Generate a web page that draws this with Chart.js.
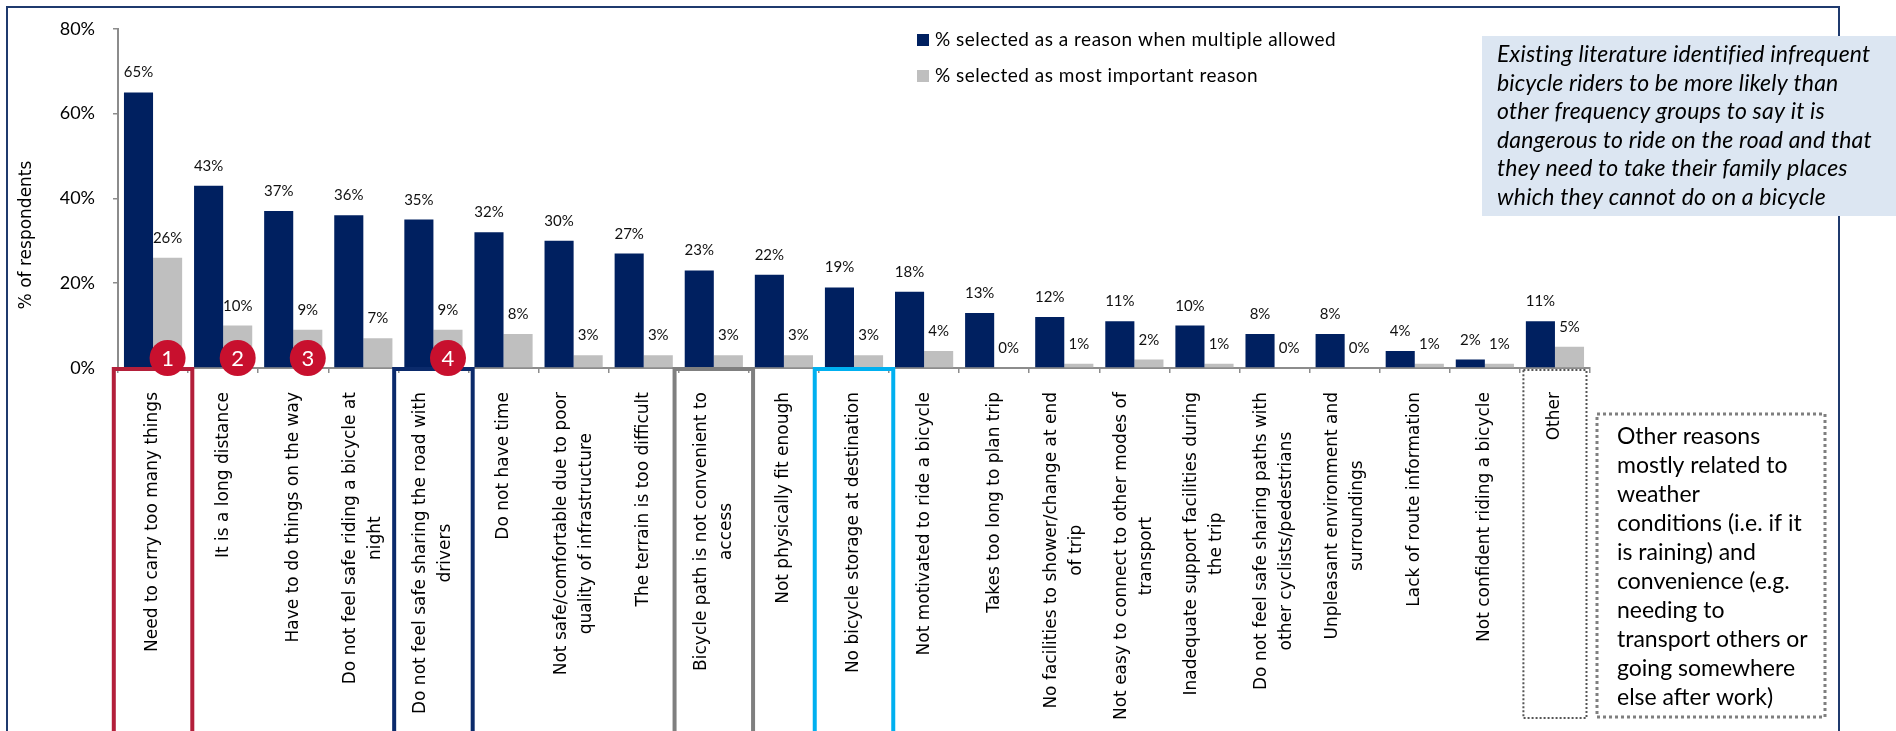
<!DOCTYPE html>
<html>
<head>
<meta charset="utf-8">
<title>Reasons for not riding a bicycle more often</title>
<script src="https://cdn.jsdelivr.net/npm/chart.js@4.4.1/dist/chart.umd.min.js"></script>
<style>
  html, body { margin: 0; padding: 0; background: #fff; }
  #wrap { width: 1896px; height: 731px; }
</style>
</head>
<body>
<div id="wrap"><canvas id="reasonsChart" width="1896" height="731"></canvas></div>
<script>
// categories (each entry = lines of the rotated axis label)
const CATEGORIES = [
  ['Need to carry too many things'],
  ['It is a long distance'],
  ['Have to do things on the way'],
  ['Do not feel safe riding a bicycle at', 'night'],
  ['Do not feel safe sharing the road with', 'drivers'],
  ['Do not have time'],
  ['Not safe/comfortable due to poor', 'quality of infrastructure'],
  ['The terrain is too difficult'],
  ['Bicycle path is not convenient to', 'access'],
  ['Not physically fit enough'],
  ['No bicycle storage at destination'],
  ['Not motivated to ride a bicycle'],
  ['Takes too long to plan trip'],
  ['No facilities to shower/change at end', 'of trip'],
  ['Not easy to connect to other modes of', 'transport'],
  ['Inadequate support facilities during', 'the trip'],
  ['Do not feel safe sharing paths with', 'other cyclists/pedestrians'],
  ['Unpleasant environment and', 'surroundings'],
  ['Lack of route information'],
  ['Not confident riding a bicycle'],
  ['Other']
];

const SERIES_NAMES = [
  '% selected as a reason when multiple allowed',
  '% selected as most important reason'
];

const MULTIPLE_ALLOWED = [65, 43, 37, 36, 35, 32, 30, 27, 23, 22, 19, 18, 13, 12, 11, 10, 8, 8, 4, 2, 11];
const MOST_IMPORTANT = [26, 10, 9, 7, 9, 8, 3, 3, 3, 3, 3, 4, 0, 1, 2, 1, 0, 0, 1, 1, 5];

const Y_TICKS = [0, 20, 40, 60, 80];

// categories framed below the axis, and the numbered markers
const FRAMED = [0, 4, 8, 10];
const MARKED = [0, 1, 2, 4];
const OTHER_INDEX = 20;

const NOTE_LINES = [
  'Existing literature identified infrequent',
  'bicycle riders to be more likely than',
  'other frequency groups to say it is',
  'dangerous to ride on the road and that',
  'they need to take their family places',
  'which they cannot do on a bicycle'
];

const OTHER_NOTE_LINES = [
  'Other reasons',
  'mostly related to',
  'weather',
  'conditions (i.e. if it',
  'is raining) and',
  'convenience (e.g.',
  'needing to',
  'transport others or',
  'going somewhere',
  'else after work)'
];

const NAVY = '#002060';
const GREY = '#bfbfbf';
const AXIS = '#8c8c8c';
const FRAME_COLORS = ['#b31f3a', '#0b2a6b', '#7f7f7f', '#00b0f0'];
const FONT = 'Lato, Carlito, Calibri, sans-serif';
const AXIS_FONT = '"DejaVu Sans", Verdana, sans-serif';

Chart.defaults.font.family = FONT;
Chart.defaults.color = '#000';

// spread letters so the widest line of a block fills the given width
function fitSpacing(ctx, lines, width) {
  ctx.letterSpacing = '0px';
  let widest = lines[0];
  let w0 = 0;
  for (const l of lines) {
    const w = ctx.measureText(l).width;
    if (w > w0) { w0 = w; widest = l; }
  }
  const extra = Math.max(0, (width - w0) / widest.length);
  ctx.letterSpacing = `${extra.toFixed(2)}px`;
}

function drawValueLabels(chart) {
  const { ctx } = chart;
  ctx.save();
  ctx.font = `15px ${FONT}`;
  ctx.fillStyle = '#111';
  ctx.textAlign = 'center';
  ctx.textBaseline = 'alphabetic';
  chart.data.datasets.forEach((ds, di) => {
    chart.getDatasetMeta(di).data.forEach((bar, i) => {
      ctx.fillText(`${Math.round(ds.data[i])}%`, bar.x, bar.y - 15);
    });
  });
  ctx.restore();
}

function drawCategoryLabels(chart) {
  const { ctx } = chart;
  const xs = chart.scales.x;
  const top = xs.top + 24;
  const lineH = 25;
  ctx.save();
  ctx.font = `17px ${AXIS_FONT}`;
  ctx.fillStyle = '#000';
  ctx.textAlign = 'center';
  ctx.textBaseline = 'middle';
  chart.data.labels.forEach((lines, i) => {
    const cx = xs.getPixelForValue(i);
    const w = Math.max(...lines.map(l => ctx.measureText(l).width));
    ctx.save();
    ctx.translate(cx, top);
    ctx.rotate(-Math.PI / 2);
    lines.forEach((line, j) => {
      ctx.fillText(line, -w / 2, (j - (lines.length - 1) / 2) * lineH);
    });
    ctx.restore();
  });
  ctx.restore();
}

function drawFrames(chart) {
  const { ctx } = chart;
  const xs = chart.scales.x;
  const step = xs.width / CATEGORIES.length;
  ctx.save();
  ctx.lineWidth = 4;
  FRAMED.forEach((idx, k) => {
    const cx = xs.getPixelForValue(idx);
    ctx.strokeStyle = FRAME_COLORS[k];
    ctx.strokeRect(cx - step * 0.56, xs.top + 1, step * 1.12, chart.height);
  });

  // dotted frame round "Other"
  const ox = xs.getPixelForValue(OTHER_INDEX);
  ctx.lineWidth = 2;
  ctx.strokeStyle = '#555';
  ctx.setLineDash([2, 2]);
  ctx.strokeRect(ox - step * 0.45, xs.top + 2, step * 0.9, 348);
  ctx.restore();
}

function drawMarkers(chart) {
  const { ctx } = chart;
  const grey = chart.getDatasetMeta(1).data;
  const y = chart.scales.x.top - 10;
  ctx.save();
  MARKED.forEach((idx, k) => {
    ctx.beginPath();
    ctx.arc(grey[idx].x, y, 18, 0, Math.PI * 2);
    ctx.fillStyle = '#c8102e';
    ctx.fill();
    ctx.fillStyle = '#fff';
    ctx.font = `22px ${FONT}`;
    ctx.textAlign = 'center';
    ctx.textBaseline = 'middle';
    ctx.fillText(String(k + 1), grey[idx].x, y + 1);
  });
  ctx.restore();
}

function drawLegend(chart) {
  const { ctx } = chart;
  ctx.save();
  ctx.font = `19px ${FONT}`;
  ctx.letterSpacing = '0.5px';
  ctx.textBaseline = 'middle';
  chart.data.datasets.forEach((ds, i) => {
    const y = 40 + i * 36;
    ctx.fillStyle = ds.backgroundColor;
    ctx.fillRect(917, y - 6, 12, 12);
    ctx.fillStyle = '#000';
    ctx.fillText(ds.label, 935, y);
  });
  ctx.restore();
}

function drawYTitle(chart) {
  const { ctx } = chart;
  ctx.save();
  ctx.translate(27, 235);
  ctx.rotate(-Math.PI / 2);
  ctx.font = `17px ${AXIS_FONT}`;
  ctx.fillStyle = '#000';
  ctx.textAlign = 'center';
  ctx.textBaseline = 'middle';
  ctx.fillText('% of respondents', 0, 0);
  ctx.restore();
}

function drawNotes(chart) {
  const { ctx } = chart;
  ctx.save();
  // outer slide frame
  ctx.strokeStyle = '#1f3a6e';
  ctx.lineWidth = 2;
  ctx.strokeRect(7, 7, 1832, 800);

  // shaded comment box, top right
  ctx.fillStyle = '#dce6f2';
  ctx.fillRect(1482, 36, 414, 180);
  ctx.fillStyle = '#000';
  ctx.font = `italic 23px ${FONT}`;
  fitSpacing(ctx, NOTE_LINES, 375);
  ctx.textBaseline = 'middle';
  NOTE_LINES.forEach((line, i) => ctx.fillText(line, 1497, 55 + i * 28.5));

  // dotted box explaining "Other"
  ctx.strokeStyle = '#7f7f7f';
  ctx.lineWidth = 3;
  ctx.setLineDash([3, 3]);
  ctx.strokeRect(1597, 414, 228, 303);
  ctx.font = `23px ${FONT}`;
  fitSpacing(ctx, OTHER_NOTE_LINES, 185);
  OTHER_NOTE_LINES.forEach((line, i) => ctx.fillText(line, 1617, 437 + i * 29));
  ctx.restore();
}

const decorations = {
  id: 'decorations',
  beforeDraw(chart) {
    const { ctx } = chart;
    ctx.save();
    ctx.fillStyle = '#fff';
    ctx.fillRect(0, 0, chart.width, chart.height);
    ctx.restore();
  },
  afterDatasetsDraw(chart) {
    drawValueLabels(chart);
  },
  afterDraw(chart) {
    drawCategoryLabels(chart);
    drawFrames(chart);
    drawMarkers(chart);
    drawLegend(chart);
    drawYTitle(chart);
    drawNotes(chart);
  }
};

new Chart(document.getElementById('reasonsChart'), {
  type: 'bar',
  data: {
    labels: CATEGORIES,
    datasets: [
      { label: SERIES_NAMES[0], data: MULTIPLE_ALLOWED, backgroundColor: NAVY },
      { label: SERIES_NAMES[1], data: MOST_IMPORTANT, backgroundColor: GREY }
    ]
  },
  options: {
    responsive: false,
    animation: false,
    layout: { padding: { top: 27, right: 306, left: 0, bottom: 0 } },
    datasets: { bar: { categoryPercentage: 0.83, barPercentage: 1 } },
    plugins: {
      legend: { display: false },
      tooltip: { enabled: false }
    },
    scales: {
      x: {
        grid: { drawOnChartArea: false, drawTicks: true, tickLength: 5, color: AXIS, lineWidth: 1.5 },
        border: { color: AXIS, width: 2 },
        ticks: { display: false },
        afterFit: (s) => { s.height = 363; }
      },
      y: {
        min: 0,
        max: 80,
        afterBuildTicks: (s) => { s.ticks = Y_TICKS.map(v => ({ value: v })); },
        grid: { drawOnChartArea: false, drawTicks: true, tickLength: 5, color: AXIS, lineWidth: 1.5 },
        border: { color: AXIS, width: 2 },
        ticks: { padding: 18, color: '#000', font: { size: 18 }, callback: (v) => `${v}%` },
        afterFit: (s) => { s.width = 118; }
      }
    }
  },
  plugins: [decorations]
});
</script>
</body>
</html>
